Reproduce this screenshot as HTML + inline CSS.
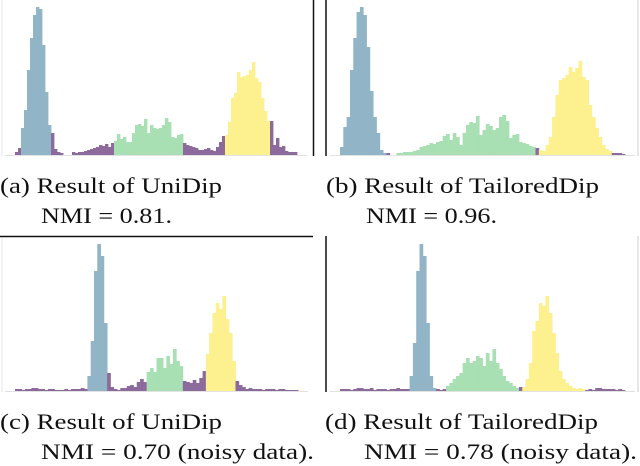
<!DOCTYPE html>
<html><head><meta charset="utf-8"><style>
html,body{margin:0;padding:0;background:#fff;}
svg{display:block;}
text{font-family:"Liberation Serif",serif;font-size:22px;fill:#111;}
</style></head><body>
<svg id="chart" width="640" height="466" viewBox="0 0 640 466">
<g id="lines">
  <line x1="313.5" y1="0" x2="313.5" y2="156" stroke="#111" stroke-width="1.5"/>
  <line x1="326" y1="0" x2="326" y2="156" stroke="#111" stroke-width="1.5"/>
  <line x1="638" y1="0" x2="638" y2="156" stroke="#ccc" stroke-width="1"/>
  <line x1="0" y1="236.5" x2="313" y2="236.5" stroke="#111" stroke-width="1.5"/>
  <line x1="326" y1="236" x2="326" y2="392" stroke="#111" stroke-width="1.5"/>
  <line x1="638" y1="236" x2="638" y2="392" stroke="#ccc" stroke-width="1"/>
  <line x1="2" y1="0" x2="2" y2="156" stroke="#e4e4e4" stroke-width="1"/>
  <line x1="2" y1="238" x2="2" y2="392" stroke="#e4e4e4" stroke-width="1"/>
</g>
<g id="bars"></g>
<g>
  <text x="0" y="193" textLength="222" lengthAdjust="spacingAndGlyphs">(a) Result of UniDip</text>
  <text x="41" y="223" textLength="131" lengthAdjust="spacingAndGlyphs">NMI = 0.81.</text>
  <text x="326" y="193" textLength="273" lengthAdjust="spacingAndGlyphs">(b) Result of TailoredDip</text>
  <text x="366" y="223" textLength="131" lengthAdjust="spacingAndGlyphs">NMI = 0.96.</text>
  <text x="0" y="429" textLength="222" lengthAdjust="spacingAndGlyphs">(c) Result of UniDip</text>
  <text x="41" y="459" textLength="273" lengthAdjust="spacingAndGlyphs">NMI = 0.70 (noisy data).</text>
  <text x="325" y="429" textLength="273" lengthAdjust="spacingAndGlyphs">(d) Result of TailoredDip</text>
  <text x="364" y="459" textLength="273" lengthAdjust="spacingAndGlyphs">NMI = 0.78 (noisy data).</text>
</g>
</svg>
<script>
// cluster labels: P=noise(purple), B=blue, G=green, Y=yellow
const countsA = [3,7,27,45,85,117,140,148,146,110,63,30,22,6,3,2,0,0,0,3,2,3,3,4,5,6,7,8,10,9,11,8,12,14,21,16,18,13,13,22,30,31,29,36,22,30,27,26,27,30,37,33,18,17,20,21,12,10,9,8,7,5,5,6,7,5,4,8,13,19,20,33,57,62,83,78,79,80,85,93,77,73,57,44,34,34,10,17,8,9,4,3,3,3];
const labelsA = "PPBBBBBBBBBBPPPPPPPPPPPPPPPPPPPPPGGGGGGGGGGGGGGGGGGGGGGGPPPPPPPPPPPPPPYYYYYYYYYYYYYYYPPPPPPPP";
const countsB = [8,28,38,85,117,143,148,140,108,64,38,22,5,2,2,0,0,2,2,3,3,3,4,5,8,9,10,12,11,13,14,19,21,15,22,18,10,22,30,33,32,39,20,25,31,29,25,27,38,40,34,17,20,21,13,12,11,9,8,7,5,4,10,18,38,60,75,77,80,88,83,87,94,78,75,50,38,27,18,10,6,4,2,2,2,1];
const labelsB = "BBBBBBBBBBBBBBPPPGGGGGGGGGGGGGGGGGGGGGGGGGGGGGGGGGGGGGGGGGGPYYYYYYYYYYYYYYYYYYYYYYPPP";
const countsC = [2,2,1,2,2,3,3,2,2,1,2,2,1,1,1,2,1,2,2,2,3,2,15,50,120,147,135,68,18,4,2,1,3,3,5,6,4,9,12,9,19,23,19,33,33,23,35,27,42,30,25,10,9,8,11,8,13,20,37,58,78,88,82,95,72,58,30,10,6,4,2,3,2,2,2,1,2,2,2,1,2,2,1,1,1,1];
const labelsC = "PPPPPPPPPPPPPPPPPPPPPPBBBBBBPPPPPPPPPPPPGGGGGGGGGGGPPPPPPPYYYYYYYYYPPPPPPPPPPPPPPPPPPP";
const countsD = [2,2,2,1,2,3,3,2,2,3,1,2,2,2,1,2,2,3,2,2,2,15,48,120,147,135,68,15,3,2,1,2,5,8,12,15,18,28,33,28,30,35,33,25,38,30,42,28,22,15,10,8,5,3,4,4,12,28,60,70,88,85,95,78,58,38,20,12,8,5,3,2,3,2,1,2,1,3,3,2,2,2,2,1,2,1];
const labelsD = "PPPPPPPPPPPPPPPPPPPPPBBBBBBBBPPPGGGGGGGGGGGGGGGGGGGGGGPYYYYYYYYYYYYYYYYYYYPPPPPPPPPPPP";

const colors = {P:"#8c6b9c", B:"#91b4c6", G:"#a8dfb3", Y:"#fdf08e"};
const svgNS = "http://www.w3.org/2000/svg";
const g = document.getElementById('bars');
function drawPanel(name, counts, labels, x0, x1, base) {
  const n = counts.length;
  const bw = (x1 - x0) / n;
  const xs = i => x0 + i * bw;
  const ys = v => base - v * (148 / 148);
  const grp = document.createElementNS(svgNS, 'g');
  
  
  const axis = document.createElementNS(svgNS, 'line');
  axis.setAttribute('x1', x0 - 10); axis.setAttribute('x2', x1 + 10);
  axis.setAttribute('y1', base + 0.5); axis.setAttribute('y2', base + 0.5);
  axis.setAttribute('stroke', '#e2e2e2');
  
  
  grp.appendChild(axis);
  for (let i = 0; i < n; i++) {
    if (counts[i] <= 0) continue;
    const r = document.createElementNS(svgNS, 'rect');
    r.setAttribute('x', xs(i).toFixed(2));
    r.setAttribute('width', (bw + 0.4).toFixed(2));
    r.setAttribute('y', ys(counts[i]).toFixed(2));
    r.setAttribute('height', (base - ys(counts[i])).toFixed(2));
    r.setAttribute('fill', colors[labels[i]] || colors.P);
    
    
    grp.appendChild(r);
  }
  g.appendChild(grp);
}
drawPanel('histogram-a', countsA, labelsA, 15, 297, 155);
drawPanel('histogram-b', countsB, labelsB, 340, 625, 155);
drawPanel('histogram-c', countsC, labelsC, 15, 298, 391);
drawPanel('histogram-d', countsD, labelsD, 340, 625, 391);
</script>
</body></html>
